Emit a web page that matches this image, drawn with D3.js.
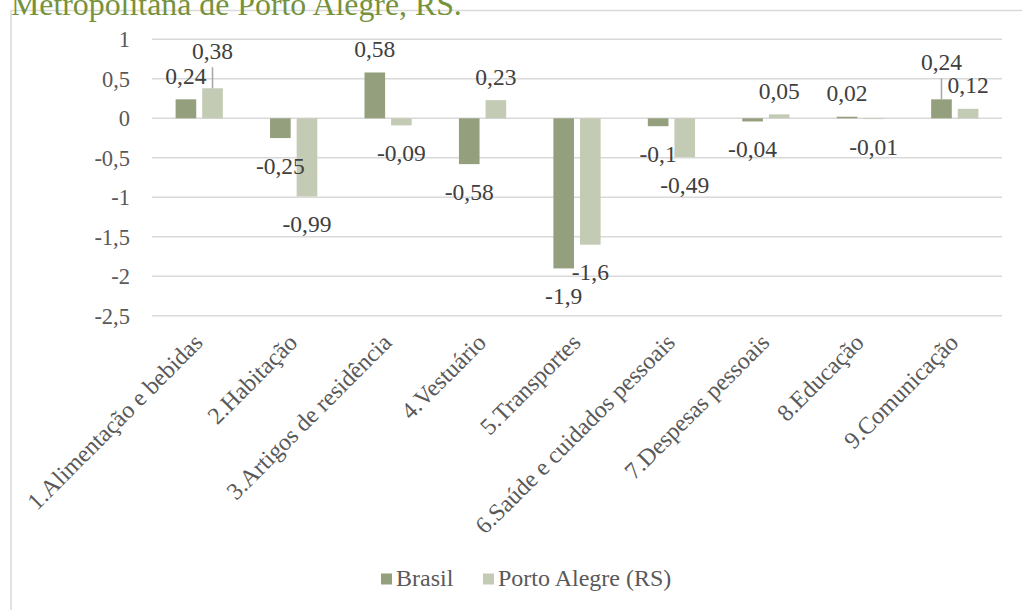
<!DOCTYPE html>
<html>
<head>
<meta charset="utf-8">
<script src="https://cdn.jsdelivr.net/npm/d3@7"></script>
<style>
  body { margin: 0; background: #fff; }
  svg { display: block; }
  text { font-family: "Liberation Serif", "Times New Roman", "DejaVu Serif", serif; }
</style>
</head>
<body>
<svg id="chart" width="1022" height="610"></svg>
<script>
// Variação por grupo do IPCA: Brasil x Porto Alegre (RS)
const categories = [
  "1.Alimentação e bebidas",
  "2.Habitação",
  "3.Artigos de residência",
  "4.Vestuário",
  "5.Transportes",
  "6.Saúde e cuidados pessoais",
  "7.Despesas pessoais",
  "8.Educação",
  "9.Comunicação"
];
const seriesNames = ["Brasil", "Porto Alegre (RS)"];
const brasil      = [0.24, -0.25, 0.58, -0.58, -1.9, -0.1, -0.04, 0.02, 0.24];
const portoAlegre = [0.38, -0.99, -0.09, 0.23, -1.6, -0.49, 0.05, -0.01, 0.12];
const yTicks = [1, 0.5, 0, -0.5, -1, -1.5, -2, -2.5];
const titleText = "Metropolitana de Porto Alegre, RS.";

// labels lifted above their bars, joined back by a leader line
const liftedLabels = [
  { series: 1, index: 0, dy: -14 },
  { series: 0, index: 8, dy: -14 }
];

const colors = ["#939f7d", "#c3cbb5"];
const values = [brasil, portoAlegre];
const serif = '"Liberation Serif", "Times New Roman", "DejaVu Serif", serif';

const svg = d3.select("#chart");
const ptBR = d3.formatLocale({ decimal: ",", thousands: ".", grouping: [3], currency: ["R$", ""], minus: "-" });
const fmt = ptBR.format(".2~f");

// outer frame
svg.append("rect")
  .attr("x", 11).attr("y", 10.5)
  .attr("width", 1040).attr("height", 640)
  .attr("fill", "none").attr("stroke", "#d9d9d9").attr("stroke-width", 1.5);

// title line (continuation from above)
const title = svg.append("text")
  .attr("x", 11).attr("y", 15)
  .attr("fill", "#76923c")
  .style("font-family", serif)
  .style("font-size", "28px")
  .text(titleText);
const tl = title.node().getComputedTextLength();
title.style("font-size", (28 * 451 / tl) + "px");

const x0 = d3.scaleBand().domain(categories).range([152, 1002]).paddingInner(0.5).paddingOuter(0.25);
const x1 = d3.scaleBand().domain(d3.range(seriesNames.length)).range([0, x0.bandwidth()]).paddingInner(0.225);
const y = d3.scaleLinear().domain([-2.5, 1]).range([315.8, 39.3]);
const bandCenter = c => x0(c) + x0.bandwidth() / 2;

// gridlines
svg.append("g").selectAll("line").data(yTicks).join("line")
  .attr("x1", 152).attr("x2", 1002)
  .attr("y1", d => y(d)).attr("y2", d => y(d))
  .attr("stroke", "#d9d9d9").attr("stroke-width", 1.4);

// y axis labels
const yAxis = d3.axisLeft(y).tickValues(yTicks).tickFormat(fmt).tickSize(0).tickPadding(0);
const gy = svg.append("g").attr("transform", "translate(130,0)").call(yAxis);
gy.select(".domain").remove();
gy.attr("font-family", null).attr("font-size", null);
gy.selectAll("text")
  .attr("fill", "#595959")
  .style("font-size", "22.5px")
  .style("font-family", serif);

// bars
const bars = [];
values.forEach((vals, s) => vals.forEach((v, i) => bars.push({ s, i, v, c: categories[i] })));

svg.append("g").selectAll("rect").data(bars).join("rect")
  .attr("x", d => x0(d.c) + x1(d.s))
  .attr("width", x1.bandwidth())
  .attr("y", d => y(Math.max(0, d.v)))
  .attr("height", d => Math.abs(y(d.v) - y(0)))
  .attr("fill", d => colors[d.s]);

// data labels
const lift = (d) => {
  const m = liftedLabels.find(l => l.series === d.s && l.index === d.i);
  return m ? m.dy : 0;
};
const labelY = d => (d.v >= 0 ? y(d.v) - 15.5 : y(d.v) + 35.5) + lift(d);

svg.append("g").selectAll("line").data(bars.filter(d => lift(d) !== 0)).join("line")
  .attr("x1", d => x0(d.c) + x1(d.s) + x1.bandwidth() / 2)
  .attr("x2", d => x0(d.c) + x1(d.s) + x1.bandwidth() / 2)
  .attr("y1", d => y(d.v))
  .attr("y2", d => labelY(d) + 8.5)
  .attr("stroke", "#a6a6a6").attr("stroke-width", 1.5);

svg.append("g").selectAll("text").data(bars).join("text")
  .attr("x", d => x0(d.c) + x1(d.s) + x1.bandwidth() / 2)
  .attr("y", labelY)
  .attr("text-anchor", "middle")
  .attr("fill", "#404040")
  .style("font-family", serif)
  .style("font-size", "23.5px")
  .text(d => fmt(d.v));

// category labels, rotated
svg.append("g").selectAll("text").data(categories).join("text")
  .attr("transform", c => `translate(${bandCenter(c) + 5},344) rotate(-45)`)
  .attr("text-anchor", "end")
  .attr("fill", "#595959")
  .style("font-family", serif)
  .style("font-size", "24px")
  .text(c => c);

// legend
const legendItems = [
  { name: seriesNames[0], color: colors[0], x: 381 },
  { name: seriesNames[1], color: colors[1], x: 483 }
];
const lg = svg.append("g").selectAll("g").data(legendItems).join("g");
lg.append("rect")
  .attr("x", d => d.x).attr("y", 573.5)
  .attr("width", 11).attr("height", 11)
  .attr("fill", d => d.color);
lg.append("text")
  .attr("x", d => d.x + 15).attr("y", 586)
  .attr("fill", "#595959")
  .style("font-family", serif)
  .style("font-size", "24px")
  .text(d => d.name);
</script>
</body>
</html>
